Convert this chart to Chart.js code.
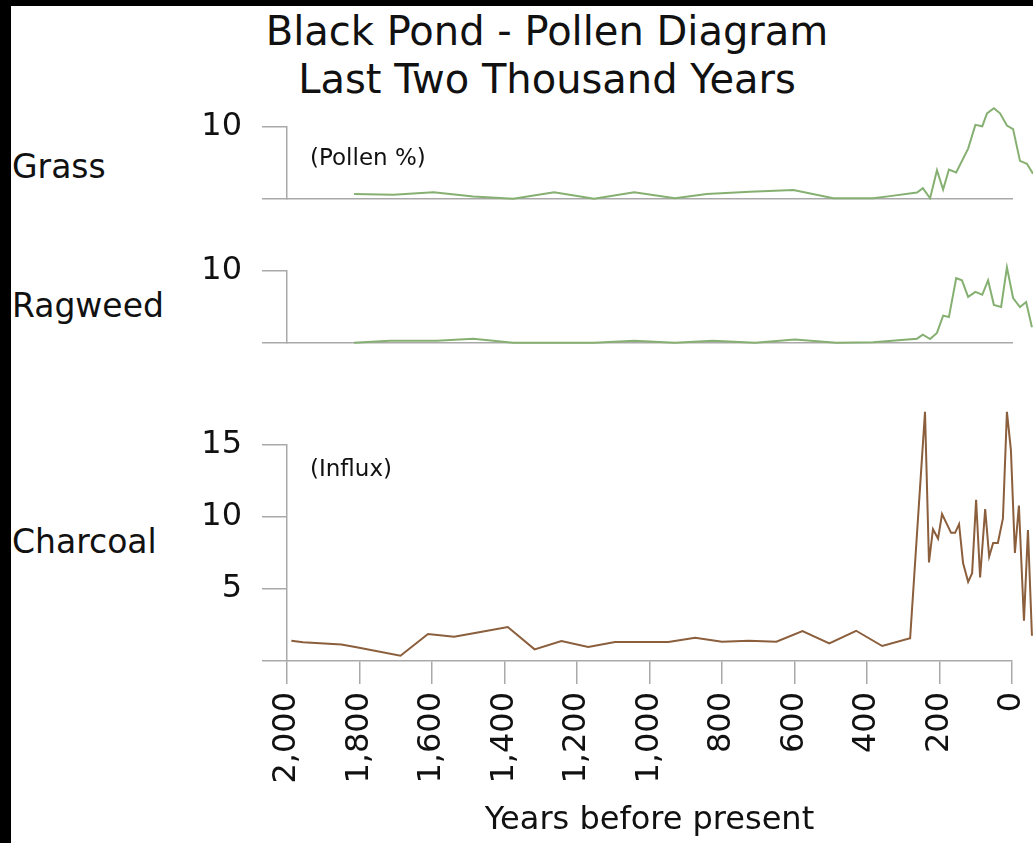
<!DOCTYPE html>
<html lang="en">

<head>
  <meta charset="UTF-8">
  <title>Black Pond - Pollen Diagram</title>
  <script src="https://cdn.jsdelivr.net/npm/chart.js"></script>
  <style>
    html, body { margin: 0; padding: 0; background: #000; width: 1033px; height: 843px; overflow: hidden; }
    #sheet { position: absolute; left: 11px; top: 6px; right: 0; bottom: 0; background: #fff; }
    .txt { position: absolute; font-family: "DejaVu Sans", Verdana, sans-serif; color: #111; white-space: nowrap; line-height: 1; }
    canvas { position: absolute; left: 11px; }
  </style>
</head>

<body>
  <div id="sheet"></div>

  <div class="txt" style="left:247px; top:7px; width:600px; text-align:center; font-size:40px; line-height:48px;">Black Pond - Pollen Diagram<br>Last Two Thousand Years</div>

  <div class="txt" style="left:12px; top:150px; font-size:33px;">Grass</div>
  <div class="txt" style="left:12px; top:289px; font-size:33px;">Ragweed</div>
  <div class="txt" style="left:12px; top:525px; font-size:33px;">Charcoal</div>

  <canvas id="grassChart" width="1022" height="110" style="top:100px"></canvas>
  <canvas id="ragweedChart" width="1022" height="110" style="top:245px"></canvas>
  <canvas id="charcoalChart" width="1022" height="448" style="top:395px"></canvas>

  <div class="txt" style="left:310px; top:146px; font-size:23px;">(Pollen %)</div>
  <div class="txt" style="left:310px; top:457px; font-size:23px;">(Influx)</div>

  <script>
    // years before present (oldest first) and values
    const grassYears = [1815, 1707, 1596, 1486, 1376, 1263, 1153, 1042, 930, 842, 723, 603, 493, 383, 337, 262, 246, 226, 207, 190, 174, 154, 121, 101, 82, 69, 50, 33, 14, -3, -22, -41, -58];
    const grassPct = [0.7, 0.6, 0.95, 0.35, 0.05, 0.95, 0.05, 0.95, 0.1, 0.7, 1.0, 1.25, 0.1, 0.1, 0.4, 0.9, 1.5, 0.1, 4.0, 1.3, 4.1, 3.7, 7.0, 10.3, 10.1, 11.9, 12.6, 11.9, 10.2, 9.7, 5.3, 4.9, 3.5];

    const ragweedYears = [1815, 1716, 1587, 1486, 1376, 1263, 1153, 1042, 930, 825, 709, 599, 484, 383, 262, 246, 226, 207, 190, 174, 154, 138, 121, 101, 82, 66, 50, 30, 14, -3, -22, -39, -55];
    const ragweedPct = [0.05, 0.3, 0.3, 0.6, 0.05, 0.05, 0.05, 0.3, 0.05, 0.3, 0.05, 0.5, 0.05, 0.1, 0.6, 1.15, 0.55, 1.4, 3.8, 3.6, 9.0, 8.7, 6.4, 7.1, 6.7, 8.7, 5.3, 5.0, 10.5, 6.25, 5.0, 5.7, 2.2];

    const charcoalYears = [1988, 1956, 1850, 1808, 1687, 1611, 1539, 1470, 1391, 1317, 1243, 1169, 1095, 948, 874, 800, 726, 650, 578, 504, 430, 358, 281, 240, 229, 218, 204, 193, 168, 157, 146, 135, 121, 110, 99, 88, 74, 63, 52, 39, 25, 14, 3, -8, -19, -33, -44, -55];
    const charcoalInflux = [1.4, 1.3, 1.15, 0.95, 0.37, 1.88, 1.69, 1.99, 2.36, 0.81, 1.39, 0.97, 1.32, 1.32, 1.62, 1.34, 1.41, 1.34, 2.08, 1.23, 2.1, 1.04, 1.58, 17.3, 6.85, 9.15, 8.5, 10.2, 8.9, 8.9, 9.5, 6.8, 5.5, 6.1, 11.2, 5.8, 10.55, 7.25, 8.2, 8.2, 9.9, 17.3, 14.65, 7.5, 10.8, 2.8, 9.1, 1.75];

    const yearTicks = [2000, 1800, 1600, 1400, 1200, 1000, 800, 600, 400, 200, 0];

    const GREEN = '#86b072';
    const BROWN = '#8b5e3c';
    const GREY = '#a9a9a9';
    const INK = '#111';

    Chart.defaults.font.family = "'DejaVu Sans', Verdana, sans-serif";
    Chart.defaults.color = INK;

    function toPoints(xs, ys) {
      return xs.map((x, i) => ({ x, y: ys[i] }));
    }

    function yAxis(max, step) {
      return {
        min: 0,
        max: max,
        position: 'left',
        grid: { drawOnChartArea: false, tickLength: 25, color: GREY, lineWidth: 1.5 },
        border: { color: GREY, width: 1.5 },
        ticks: {
          stepSize: step,
          padding: 20,
          font: { size: 32 },
          color: INK,
          callback: v => (v === 0 ? '' : v)
        },
        afterFit: s => { s.width = 276; s.paddingTop = 0; s.paddingBottom = 0; }
      };
    }

    function plainXAxis() {
      return {
        type: 'linear',
        min: 0,
        max: 2000,
        reverse: true,
        grid: { display: false },
        ticks: { display: false },
        border: { color: GREY, width: 1.5 },
        afterFit: s => { s.height = 0; s.paddingLeft = 0; s.paddingRight = 0; }
      };
    }

    function yearsXAxis() {
      return {
        type: 'linear',
        min: 0,
        max: 2000,
        reverse: true,
        afterBuildTicks: s => { s.ticks = yearTicks.map(v => ({ value: v })); },
        grid: { drawOnChartArea: false, drawTicks: true, tickLength: 23, color: GREY, lineWidth: 1.5 },
        border: { color: GREY, width: 1.5 },
        ticks: {
          autoSkip: false,
          minRotation: 90,
          maxRotation: 90,
          padding: 8,
          font: { size: 32 },
          color: INK,
          callback: v => v.toLocaleString('en-US')
        },
        title: {
          display: true,
          text: 'Years before present',
          font: { size: 32 },
          color: INK,
          padding: { top: 0, bottom: 3 }
        },
        afterFit: s => { s.height = 182; s.paddingLeft = 0; s.paddingRight = 0; }
      };
    }

    function makePanel(id, xs, ys, color, xAxis, yScale, padTop, padBottom) {
      return new Chart(document.getElementById(id), {
        type: 'line',
        data: {
          datasets: [{
            data: toPoints(xs, ys),
            borderColor: color,
            borderWidth: 2,
            pointRadius: 0,
            tension: 0,
            clip: false
          }]
        },
        options: {
          responsive: false,
          animation: false,
          layout: { padding: { top: padTop, bottom: padBottom, left: 0, right: 21 } },
          plugins: { legend: { display: false }, tooltip: { enabled: false } },
          scales: { x: xAxis, y: yScale }
        }
      });
    }

    makePanel('grassChart', grassYears, grassPct, GREEN, plainXAxis(), yAxis(10, 10), 27, 11);
    makePanel('ragweedChart', ragweedYears, ragweedPct, GREEN, plainXAxis(), yAxis(10, 10), 26, 12);
    makePanel('charcoalChart', charcoalYears, charcoalInflux, BROWN, yearsXAxis(), yAxis(15, 5), 50, 0);
  </script>
</body>

</html>
